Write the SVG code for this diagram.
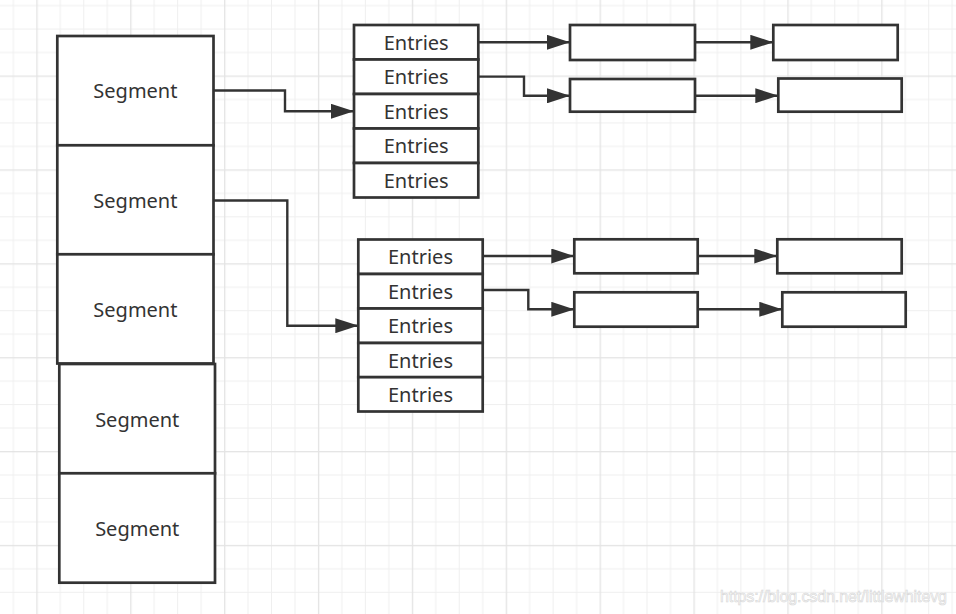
<svg xmlns="http://www.w3.org/2000/svg" width="956" height="614" viewBox="0 0 956 614">
<style>
.box{fill:#fff;stroke:#333;stroke-width:2.7}
.lbl{font-family:"Noto Sans","Open Sans",sans-serif;font-size:20px;fill:#333;text-anchor:middle}
.con{fill:none;stroke:#333;stroke-width:2.4}
.wm{font-family:"Liberation Sans",Arial,sans-serif;font-size:16px;fill:#fbfbfb;stroke:#d6d6d6;stroke-width:0.6}
</style>
<defs>
<pattern id="grid" patternUnits="userSpaceOnUse" x="36.3" y="75.5" width="93.88" height="93.88">
<rect x="0" y="0" width="93.88" height="93.88" fill="#fff"/>
<rect x="23.47" y="0" width="1" height="93.88" fill="#efefef"/>
<rect x="46.94" y="0" width="1" height="93.88" fill="#efefef"/>
<rect x="70.41" y="0" width="1" height="93.88" fill="#efefef"/>
<rect x="0" y="23.47" width="93.88" height="1" fill="#efefef"/>
<rect x="0" y="46.94" width="93.88" height="1" fill="#efefef"/>
<rect x="0" y="70.41" width="93.88" height="1" fill="#efefef"/>
<rect x="0" y="0" width="1.3" height="93.88" fill="#e4e4e4"/>
<rect x="0" y="0" width="93.88" height="1.3" fill="#e4e4e4"/>
</pattern>
<marker id="arr" markerUnits="userSpaceOnUse" markerWidth="23" markerHeight="15" refX="23" refY="7.5" orient="auto">
<path d="M0,0 L23,7.5 L0,15 Z" fill="#333"/>
</marker>
</defs>
<rect x="0" y="0" width="956" height="614" fill="url(#grid)"/>

<g id="segment1"><rect class="box" x="57.3" y="36" width="156.2" height="109.3"/><text class="lbl" x="135.4" y="98.2">Segment</text></g>
<g id="segment2"><rect class="box" x="57.3" y="145.3" width="156.2" height="109"/><text class="lbl" x="135.4" y="207.5">Segment</text></g>
<g id="segment3"><rect class="box" x="57.3" y="254.3" width="156.2" height="109.2"/><text class="lbl" x="135.4" y="316.5">Segment</text></g>
<g id="segment4"><rect class="box" x="59.3" y="364" width="155.7" height="109.3"/><text class="lbl" x="137.2" y="426.5">Segment</text></g>
<g id="segment5"><rect class="box" x="59.3" y="473.3" width="155.7" height="109.4"/><text class="lbl" x="137.2" y="535.5">Segment</text></g>

<g id="entries1-1"><rect class="box" x="354" y="25" width="124.3" height="34.5"/><text class="lbl" x="416.2" y="49.8">Entries</text></g>
<g id="entries1-2"><rect class="box" x="354" y="59.5" width="124.3" height="34.5"/><text class="lbl" x="416.2" y="84.3">Entries</text></g>
<g id="entries1-3"><rect class="box" x="354" y="94" width="124.3" height="34.5"/><text class="lbl" x="416.2" y="118.8">Entries</text></g>
<g id="entries1-4"><rect class="box" x="354" y="128.5" width="124.3" height="34.5"/><text class="lbl" x="416.2" y="153.3">Entries</text></g>
<g id="entries1-5"><rect class="box" x="354" y="163" width="124.3" height="34.5"/><text class="lbl" x="416.2" y="187.8">Entries</text></g>

<g id="entries2-1"><rect class="box" x="358.3" y="239.5" width="124.4" height="34.5"/><text class="lbl" x="420.5" y="264.3">Entries</text></g>
<g id="entries2-2"><rect class="box" x="358.3" y="274" width="124.4" height="34.5"/><text class="lbl" x="420.5" y="298.8">Entries</text></g>
<g id="entries2-3"><rect class="box" x="358.3" y="308.5" width="124.4" height="34.5"/><text class="lbl" x="420.5" y="333.3">Entries</text></g>
<g id="entries2-4"><rect class="box" x="358.3" y="343" width="124.4" height="34.2"/><text class="lbl" x="420.5" y="367.6">Entries</text></g>
<g id="entries2-5"><rect class="box" x="358.3" y="377.2" width="124.4" height="34.3"/><text class="lbl" x="420.5" y="401.9">Entries</text></g>

<g id="node-a1"><rect class="box" x="570" y="25" width="125" height="35"/></g>
<g id="node-b1"><rect class="box" x="773.3" y="25" width="124.4" height="35"/></g>
<g id="node-a2"><rect class="box" x="570" y="79" width="125" height="32.7"/></g>
<g id="node-b2"><rect class="box" x="778.3" y="78.5" width="123.4" height="33.2"/></g>
<g id="node-a3"><rect class="box" x="574.3" y="239.3" width="123.4" height="34"/></g>
<g id="node-b3"><rect class="box" x="777.3" y="239.3" width="124.4" height="34"/></g>
<g id="node-a4"><rect class="box" x="574.3" y="292.3" width="123.4" height="34.4"/></g>
<g id="node-b4"><rect class="box" x="782.3" y="292.3" width="123.4" height="34.4"/></g>

<g id="connectors">
<path class="con" marker-end="url(#arr)" d="M213.5,90.5 H285 V111.3 H354"/>
<path class="con" marker-end="url(#arr)" d="M213.5,200.5 H287.3 V325.7 H358.3"/>
<path class="con" marker-end="url(#arr)" d="M478.3,42.3 H570"/>
<path class="con" marker-end="url(#arr)" d="M478.3,76.6 H524 V95.8 H570"/>
<path class="con" marker-end="url(#arr)" d="M695,42.3 H773.3"/>
<path class="con" marker-end="url(#arr)" d="M695,95.7 H778.3"/>
<path class="con" marker-end="url(#arr)" d="M482.7,256 H574.3"/>
<path class="con" marker-end="url(#arr)" d="M482.7,290 H528.3 V309.3 H574.3"/>
<path class="con" marker-end="url(#arr)" d="M697.7,256 H777.3"/>
<path class="con" marker-end="url(#arr)" d="M697.7,309.3 H782.3"/>
</g>

<text class="wm" x="720" y="602" textLength="227">https://blog.csdn.net/littlewhitevg</text>
</svg>
